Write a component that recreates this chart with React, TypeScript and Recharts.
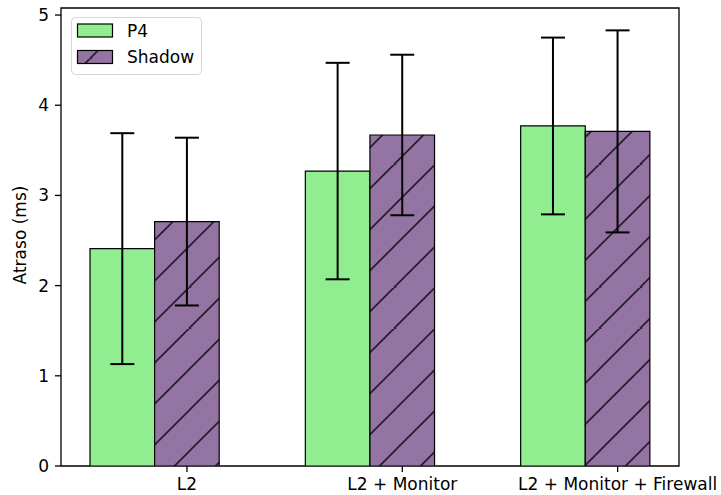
import React from 'react';
import { BarChart, Bar, XAxis, YAxis, ErrorBar, Legend, ReferenceArea, Label } from 'recharts';

const categories = ['L2', 'L2 + Monitor', 'L2 + Monitor + Firewall'];
const p4Values = [2.41, 3.27, 3.77];
const p4Errors = [1.28, 1.2, 0.98];
const shadowValues = [2.71, 3.67, 3.71];
const shadowErrors = [0.93, 0.89, 1.12];
const yTicks = [0, 1, 2, 3, 4, 5];
const seriesNames = ['P4', 'Shadow'];

const BAR_WIDTH = 0.3;
const X_DOMAIN: [number, number] = [-0.285, 2.585];
const Y_DOMAIN: [number, number] = [0, 5.078];

const data = categories.map((name, i) => ({
  pos: i + BAR_WIDTH / 2,
  name,
  p4: p4Values[i],
  p4Err: p4Errors[i],
  shadow: shadowValues[i],
  shadowErr: shadowErrors[i],
}));
const xTicks = categories.map((_, i) => i + BAR_WIDTH);

const GREEN = '#90EE90';
const PURPLE = '#9474A3';
const FONT = 'DejaVu Sans';
const FS = 17;

const W = 721;
const H = 495;
const MARGIN = { top: 8, right: 42, left: 0, bottom: 0 };
const Y_AXIS_W = 61;
const X_AXIS_H = 29;
const plotW = W - MARGIN.left - MARGIN.right - Y_AXIS_W;
const barPx = (plotW / (X_DOMAIN[1] - X_DOMAIN[0])) * BAR_WIDTH;

const HATCH = 41;

const HatchPattern = ({ id, offset }: { id: string; offset: number }) => (
  <pattern id={id} patternUnits="userSpaceOnUse" x={offset} y={0} width={HATCH} height={HATCH}>
    <rect x={0} y={0} width={HATCH} height={HATCH} fill={PURPLE} />
    <path
      d={`M0,${HATCH} L${HATCH},0 M-3,3 L3,-3 M${HATCH - 3},${HATCH + 3} L${HATCH + 3},${HATCH - 3}`}
      stroke="#000"
      strokeWidth={1.3}
    />
  </pattern>
);

const LegendContent = () => (
  <svg width={131} height={58} style={{ display: 'block', overflow: 'visible' }}>
    <defs>
      <HatchPattern id="hatchLegend" offset={19.5} />
    </defs>
    <rect x={0.5} y={0.5} width={130} height={57} rx={4} ry={4} fill="#fff" fillOpacity={0.8} stroke="#d6d6d6" strokeWidth={1} />
    <rect x={6.5} y={7} width={35} height={13} fill={GREEN} stroke="#000" strokeWidth={1.2} />
    <rect x={6.5} y={33.5} width={35} height={13} fill="url(#hatchLegend)" stroke="#000" strokeWidth={1.2} />
    <text x={56} y={13.5} fontSize={FS} fontFamily={FONT} fill="#000" dominantBaseline="central">
      {seriesNames[0]}
    </text>
    <text x={56} y={40} fontSize={FS} fontFamily={FONT} fill="#000" dominantBaseline="central">
      {seriesNames[1]}
    </text>
  </svg>
);

const YLabel = (props: any) => {
  const vb = props.viewBox || { x: 0, y: 0, width: 0, height: 0 };
  const x = vb.x + 26;
  const y = vb.y + vb.height / 2 - 2;
  return (
    <text
      x={x}
      y={y}
      transform={`rotate(-90 ${x} ${y})`}
      textAnchor="middle"
      fontSize={FS}
      fontFamily={FONT}
      fill="#000"
    >
      Atraso (ms)
    </text>
  );
};

export default function App() {
  return (
    <div style={{ position: 'absolute', left: 0, top: 0, width: W, height: H, background: '#fff', fontFamily: FONT }}>
      <BarChart width={W} height={H} data={data} margin={MARGIN} barGap={0} barSize={barPx}>
        <defs>
          <HatchPattern id="hatchMain" offset={25.5} />
        </defs>
        <XAxis
          dataKey="pos"
          type="number"
          domain={X_DOMAIN}
          ticks={xTicks}
          interval={0}
          allowDataOverflow
          height={X_AXIS_H}
          axisLine={false}
          tickSize={6}
          tickMargin={6}
          tickLine={{ stroke: '#000', strokeWidth: 1.3 }}
          tick={{ fill: '#000', fontSize: FS, fontFamily: FONT }}
          tickFormatter={(v: number) => categories[Math.round(v - BAR_WIDTH)] ?? ''}
        />
        <YAxis
          type="number"
          domain={Y_DOMAIN}
          ticks={yTicks}
          interval={0}
          allowDataOverflow
          width={Y_AXIS_W}
          axisLine={false}
          tickSize={6}
          tickMargin={6}
          tickLine={{ stroke: '#000', strokeWidth: 1.3 }}
          tick={{ fill: '#000', fontSize: FS, fontFamily: FONT }}
        >
          <Label content={<YLabel />} />
        </YAxis>
        <Legend
          layout="vertical"
          align="center"
          verticalAlign="middle"
          content={<LegendContent />}
          wrapperStyle={{ left: 71, top: 17, width: 131, height: 58, right: 'auto', bottom: 'auto' }}
        />
        <Bar dataKey="p4" name={seriesNames[0]} fill={GREEN} stroke="#000" strokeWidth={1.2} isAnimationActive={false}>
          <ErrorBar dataKey="p4Err" width={12} stroke="#000" strokeWidth={2} direction="y" />
        </Bar>
        <Bar dataKey="shadow" name={seriesNames[1]} fill="url(#hatchMain)" stroke="#000" strokeWidth={1.2} isAnimationActive={false}>
          <ErrorBar dataKey="shadowErr" width={12} stroke="#000" strokeWidth={2} direction="y" />
        </Bar>
        <ReferenceArea
          x1={X_DOMAIN[0]}
          x2={X_DOMAIN[1]}
          y1={Y_DOMAIN[0]}
          y2={Y_DOMAIN[1]}
          fill="none"
          fillOpacity={0}
          stroke="#000"
          strokeWidth={1.3}
          ifOverflow="visible"
        />
      </BarChart>
    </div>
  );
}
